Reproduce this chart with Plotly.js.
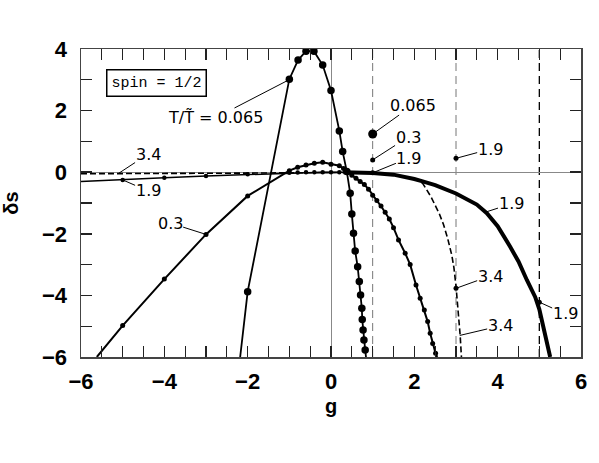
<!DOCTYPE html>
<html>
<head>
<meta charset="utf-8">
<script src="https://cdn.plot.ly/plotly-3.0.1.min.js"></script>
<style>html,body{margin:0;padding:0;background:#fff;}#chart{width:599px;height:463px;}</style>
</head>
<body>
<div id="chart"></div>
<script>
// T/T~ = 0.065 (large dots)
const g065 = [-2.18, -2.0, -1.0, -0.79, -0.6, -0.41, -0.2, 0.0, 0.2, 0.28, 0.38, 0.46, 0.5, 0.54, 0.58, 0.64, 0.68, 0.71, 0.74, 0.75, 0.77, 0.79, 0.82, 0.84];
const s065 = [-6.0, -3.88, 3.02, 3.64, 3.93, 3.93, 3.48, 2.65, 1.34, 0.67, 0.02, -0.68, -1.36, -1.98, -2.56, -3.07, -3.55, -3.99, -4.42, -4.78, -5.12, -5.45, -5.77, -6.0];

// T/T~ = 0.3 (small dots)
const g03 = [-5.62, -5.0, -4.0, -3.0, -2.0, -1.0, -0.8, -0.6, -0.4, -0.2, 0.0, 0.2, 0.3, 0.4, 0.5, 0.6, 0.7, 0.8, 0.9, 1.0, 1.1, 1.2, 1.3, 1.4, 1.5, 1.62, 1.78, 1.9, 2.04, 2.14, 2.24, 2.32, 2.38, 2.44, 2.51, 2.55];
const s03 = [-6.0, -4.98, -3.47, -2.02, -0.77, 0.05, 0.16, 0.23, 0.29, 0.32, 0.26, 0.21, 0.12, 0.0, -0.1, -0.2, -0.3, -0.4, -0.55, -0.75, -0.92, -1.1, -1.3, -1.52, -1.8, -2.2, -2.63, -3.0, -3.66, -4.09, -4.47, -4.85, -5.23, -5.56, -5.88, -6.0];

// T/T~ = 1.9, low-g part (thin, small dots) and high-g part (bold)
const g19Left = [-6.0, -5.0, -4.0, -3.0, -2.0, -1.0, -0.8, -0.6, -0.4, -0.2, 0.0, 0.2, 0.4];
const s19Left = [-0.3, -0.25, -0.18, -0.12, -0.07, -0.02, -0.01, 0.0, 0.0, 0.0, 0.0, 0.0, 0.0];
const g19Right = [0.3, 0.6, 1.0, 1.5, 1.8, 2.0, 2.2, 2.5, 3.0, 3.5, 3.74, 4.0, 4.3, 4.5, 4.7, 4.9, 5.0, 5.1, 5.2, 5.26];
const s19Right = [0.0, -0.01, -0.03, -0.08, -0.15, -0.22, -0.3, -0.42, -0.69, -1.05, -1.33, -1.75, -2.42, -2.9, -3.5, -4.05, -4.45, -5.0, -5.6, -6.0];

// T/T~ = 3.4 (dashed)
const g34 = [-6.0, -5.0, -4.0, -3.0, -2.0, -1.0, 0.0, 0.5, 1.0, 1.5, 2.0, 2.2, 2.4, 2.6, 2.7, 2.8, 2.9, 2.95, 3.0, 3.05, 3.1, 3.13];
const s34 = [-0.05, -0.05, -0.04, -0.04, -0.03, -0.02, 0.0, -0.01, -0.03, -0.08, -0.22, -0.36, -0.8, -1.35, -1.7, -2.15, -2.7, -3.1, -3.7, -4.4, -5.3, -6.0];

// isolated points on the dashed reference lines
const isoG = [1, 1, 1, 3, 3, 5];
const isoS = [1.24, 0.40, -0.02, 0.45, -3.77, -4.22];
const isoT = ['0.065', '0.3', '1.9', '1.9', '3.4', '1.9'];

// dashed reference lines
const refG = [1, 3, 5];

// axis ranges and tick steps
const xRange = [-6, 6];
const yRange = [-6, 4];
const xStep = 2, xMinorStep = 0.5;
const yStep = 2, yMinorStep = 1;

function edgeSizes(ys, s) { return ys.map(v => (v <= -5.99 || v >= 3.99) ? 0 : s); }
function mk(sizes) { return {color: '#000', size: sizes, opacity: 1, line: {width: 0}}; }

const traces = [
  {x: g34, y: s34, mode: 'lines', line: {color: '#000', width: 1.6, dash: '6px,3px'}},
  {x: g19Left, y: s19Left, mode: 'lines+markers', line: {color: '#000', width: 1.5},
   marker: mk(edgeSizes(s19Left, 4.5).map((s, i) => g19Left[i] === -6 ? 0 : s))},
  {x: g19Right, y: s19Right, mode: 'lines', line: {color: '#000', width: 4}},
  {x: g03, y: s03, mode: 'lines+markers', line: {color: '#000', width: 2},
   marker: mk(edgeSizes(s03, 5))},
  {x: g065, y: s065, mode: 'lines+markers', line: {color: '#000', width: 1.8},
   marker: mk(edgeSizes(s065, 7.5))},
  {x: isoG, y: isoS, mode: 'markers',
   marker: mk(isoT.map(t => t === '0.065' ? 9 : 5))},
  // transparent copies on the top / right axes so that their mirrored ticks get drawn
  {x: isoG, y: isoS, xaxis: 'x2', yaxis: 'y', mode: 'markers', marker: {size: 1, opacity: 0}, hoverinfo: 'skip'},
  {x: isoG, y: isoS, xaxis: 'x', yaxis: 'y2', mode: 'markers', marker: {size: 1, opacity: 0}, hoverinfo: 'skip'}
];

const lblFont = {family: 'DejaVu Sans', size: 16, color: '#000'};
function lbl(text, x, y, ax, ay) {
  return {text: text, x: x, y: y, ax: ax, ay: ay, xref: 'x', yref: 'y', axref: 'x', ayref: 'y',
    showarrow: true, arrowhead: 0, arrowwidth: 1, arrowcolor: '#000', standoff: 0, startstandoff: 0,
    font: lblFont, borderpad: 0};
}

const annotations = [
  lbl('T/T\u0303 = 0.065', -0.98, 3.02, -2.78, 1.76),
  lbl('3.4', -5.1, -0.04, -4.39, 0.59),
  lbl('1.9', -5.0, -0.25, -4.39, -0.61),
  lbl('0.3', -3.0, -2.02, -3.86, -1.65),
  lbl('0.065', 1, 1.24, 1.97, 2.18),
  lbl('0.3', 1, 0.40, 1.85, 1.14),
  lbl('1.9', 1, -0.02, 1.87, 0.46),
  lbl('1.9', 3, 0.45, 3.82, 0.75),
  lbl('1.9', 3.7, -1.3, 4.32, -1.03),
  lbl('3.4', 3, -3.77, 3.82, -3.37),
  lbl('3.4', 3.09, -5.3, 4.06, -4.99),
  lbl('1.9', 5, -4.22, 5.62, -4.6),
  {text: 'spin = 1/2', x: -4.18, y: 2.9, xref: 'x', yref: 'y', showarrow: false,
   font: {family: 'Liberation Mono', size: 15, color: '#000'},
   bordercolor: '#000', borderwidth: 1.5, borderpad: 4, bgcolor: '#fff'}
];

const shapes = refG.map(g => ({
  type: 'line', xref: 'x', yref: 'paper', x0: g, x1: g, y0: 0, y1: 1, layer: 'below',
  line: {color: g === 5 ? '#000' : '#777', width: g === 5 ? 1.3 : 1, dash: '8px,5px'}
}));

const tickFont = {family: 'Liberation Sans', size: 22, color: '#000', weight: 'bold'};
function ticksFor(step, minorStep) {
  return {
    tickmode: 'linear', tick0: 0, dtick: step,
    ticks: 'inside', ticklen: 11, tickwidth: 1.5, tickcolor: '#222',
    minor: {tickmode: 'linear', tick0: 0, dtick: minorStep, ticks: 'inside', ticklen: 6, tickwidth: 1.3, tickcolor: '#222', showgrid: false}
  };
}
const axisCommon = {
  showline: true, linecolor: '#444', linewidth: 1.5, mirror: 'allticks',
  showgrid: false, zeroline: true, zerolinecolor: '#888', zerolinewidth: 1,
  tickfont: tickFont
};
const mirrorCommon = {
  showline: false, showgrid: false, zeroline: false, showticklabels: false
};

const layout = {
  width: 599, height: 463,
  margin: {l: 81, r: 18, t: 49, b: 106},
  paper_bgcolor: '#fff', plot_bgcolor: '#fff',
  showlegend: false,
  xaxis: Object.assign({}, axisCommon, ticksFor(xStep, xMinorStep), {
    range: xRange,
    ticklabelstandoff: 4,
    title: {text: 'g', font: {family: 'Liberation Sans', size: 20, color: '#000', weight: 'bold'}, standoff: 6}
  }),
  yaxis: Object.assign({}, axisCommon, ticksFor(yStep, yMinorStep), {
    range: yRange,
    ticklabelstandoff: 8,
    title: {text: '\u03b4s', font: {family: 'Liberation Sans', size: 20, color: '#000', weight: 'bold'}, standoff: 18}
  }),
  xaxis2: Object.assign({}, mirrorCommon, ticksFor(xStep, xMinorStep), {
    overlaying: 'x', side: 'top', anchor: 'y', range: xRange
  }),
  yaxis2: Object.assign({}, mirrorCommon, ticksFor(yStep, yMinorStep), {
    overlaying: 'y', side: 'right', anchor: 'x', range: yRange
  }),
  annotations: annotations,
  shapes: shapes
};

Plotly.newPlot('chart', traces, layout, {displayModeBar: false, staticPlot: true});
</script>
</body>
</html>
